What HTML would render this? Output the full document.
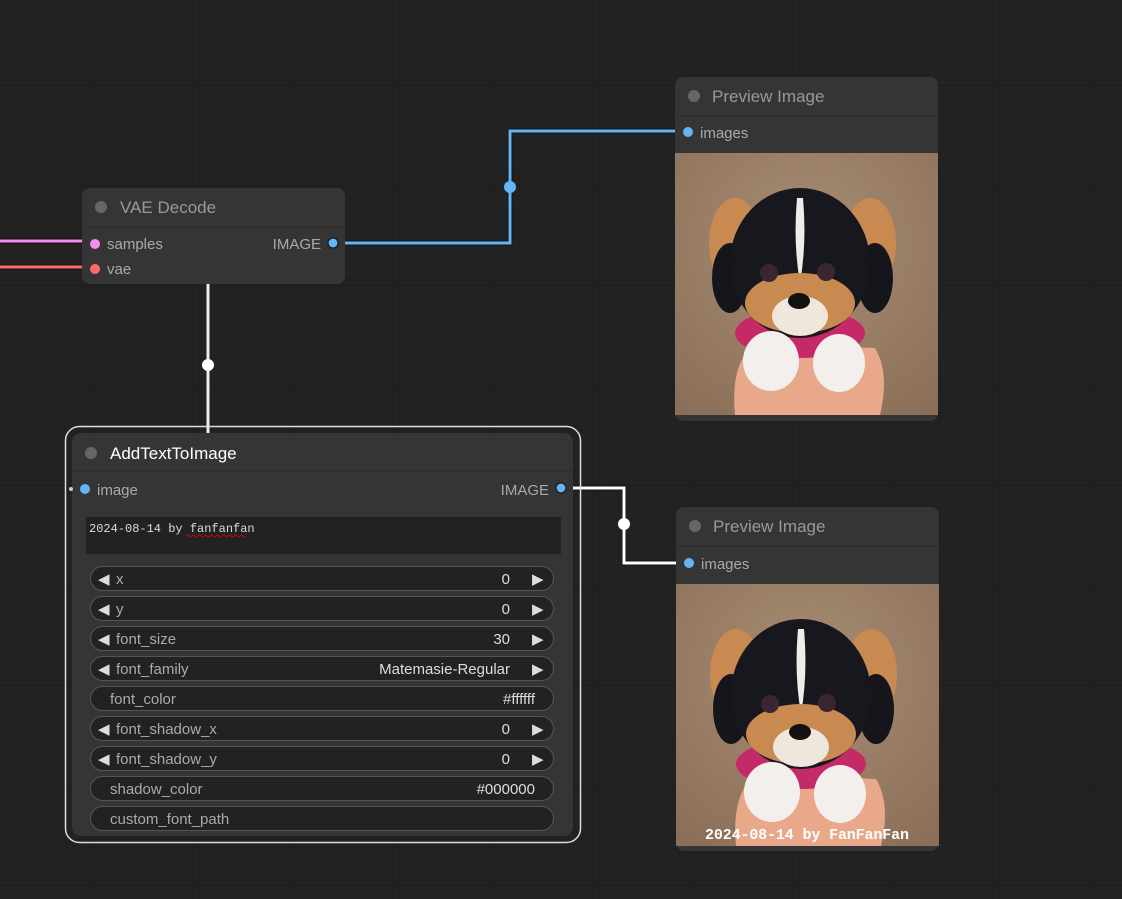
<!DOCTYPE html>
<html><head><meta charset="utf-8"><style>
html,body{margin:0;padding:0;background:#222;overflow:hidden}
svg{display:block}
text{font-family:"Liberation Sans",Arial,sans-serif}
text.mono{font-family:"Liberation Mono",monospace}
</style></head><body>
<svg width="1122" height="899" viewBox="0 0 1122 899" xmlns="http://www.w3.org/2000/svg">
<defs>
<pattern id="g1" width="10" height="10" patternUnits="userSpaceOnUse"><path d="M10 0V10H0" fill="none" stroke="#1d1d1d" stroke-width="1"/></pattern>
<pattern id="g2" width="100" height="100" patternUnits="userSpaceOnUse" x="-6" y="-14"><path d="M100 0V100H0" fill="none" stroke="#1a1a1a" stroke-width="1.5"/></pattern>
<radialGradient id="bg" cx="0.5" cy="0.35" r="0.8"><stop offset="0" stop-color="#a88d74"/><stop offset="1" stop-color="#8a6e58"/></radialGradient>
<symbol id="pup" viewBox="0 0 263 262">
<rect width="263" height="262" fill="url(#bg)"/>
<path d="M60 262 Q55 210 80 190 L200 195 Q215 220 205 262Z" fill="#e9a889"/>
<ellipse cx="60" cy="90" rx="26" ry="45" fill="#c98a52"/>
<ellipse cx="195" cy="90" rx="26" ry="45" fill="#c98a52"/>
<ellipse cx="55" cy="125" rx="18" ry="35" fill="#15151c"/>
<ellipse cx="200" cy="125" rx="18" ry="35" fill="#15151c"/>
<ellipse cx="125" cy="180" rx="65" ry="25" fill="#c42a66"/>
<ellipse cx="125" cy="110" rx="70" ry="75" fill="#17171e"/>
<path d="M122 45 Q118 90 125 130 Q132 90 128 45Z" fill="#f0ece8"/>
<ellipse cx="125" cy="150" rx="55" ry="30" fill="#c98a52"/>
<ellipse cx="125" cy="163" rx="28" ry="20" fill="#efe6dc"/>
<circle cx="94" cy="120" r="9" fill="#3a2630"/><circle cx="151" cy="119" r="9" fill="#3a2630"/>
<ellipse cx="124" cy="148" rx="11" ry="8" fill="#111"/>
<ellipse cx="96" cy="208" rx="28" ry="30" fill="#f2efec"/>
<ellipse cx="164" cy="210" rx="26" ry="29" fill="#f2efec"/>
</symbol>
</defs>
<rect width="1122" height="899" fill="#222"/>
<rect width="1122" height="899" fill="url(#g1)"/>
<rect width="1122" height="899" fill="url(#g2)"/>

<path d="M0 241H84" stroke="#111" stroke-width="5"/><path d="M0 241H84" stroke="#f78df0" stroke-width="3"/>
<path d="M0 267H84" stroke="#111" stroke-width="5"/><path d="M0 267H84" stroke="#ff6b6b" stroke-width="3"/>
<path d="M333 243H510V131H676" fill="none" stroke="#111" stroke-width="5"/>
<path d="M333 243H510V131H676" fill="none" stroke="#64b5f6" stroke-width="3"/>
<circle cx="510" cy="187" r="6" fill="#64b5f6"/>
<path d="M208 284V433" stroke="#eee" stroke-width="3"/>
<circle cx="208" cy="365" r="6" fill="#fff"/>
<path d="M561 488H624V563H678" fill="none" stroke="#111" stroke-width="5"/>
<path d="M561 488H624V563H678" fill="none" stroke="#fff" stroke-width="3"/>
<circle cx="624" cy="524" r="6" fill="#fff"/>

<rect x="82" y="188" width="263" height="96" rx="8" fill="#353535"/>
<path d="M82 227H345" stroke="#2a2a2a"/>
<circle cx="101" cy="207" r="6" fill="#666"/>
<text x="120" y="213" font-size="17" fill="#999">VAE Decode</text>
<circle cx="95" cy="244" r="5" fill="#f78df0"/><text x="107" y="249" font-size="15" fill="#aaa">samples</text>
<circle cx="95" cy="269" r="5" fill="#ff6b6b"/><text x="107" y="274" font-size="15" fill="#aaa">vae</text>
<text x="321" y="249" font-size="15" fill="#aaa" text-anchor="end">IMAGE</text>
<circle cx="333" cy="243" r="5" fill="#64b5f6" stroke="#111" stroke-width="1"/>

<rect x="675" y="77" width="263" height="344" rx="8" fill="#353535"/>
<path d="M675 116H938" stroke="#2a2a2a"/>
<circle cx="694" cy="96" r="6" fill="#666"/>
<text x="712" y="102" font-size="17" fill="#999">Preview Image</text>
<circle cx="688" cy="132" r="5" fill="#64b5f6"/><text x="700" y="138" font-size="15" fill="#aaa">images</text>
<use href="#pup" x="675" y="153" width="263" height="262"/>

<rect x="676" y="507" width="263" height="344" rx="8" fill="#353535"/>
<path d="M676 546H939" stroke="#2a2a2a"/>
<circle cx="695" cy="526" r="6" fill="#666"/>
<text x="713" y="532" font-size="17" fill="#999">Preview Image</text>
<circle cx="689" cy="563" r="5" fill="#64b5f6"/><text x="701" y="569" font-size="15" fill="#aaa">images</text>
<use href="#pup" x="676" y="584" width="263" height="262"/>
<text x="807" y="839" font-size="15" font-weight="bold" fill="#fff" text-anchor="middle" class="mono" textLength="204">2024-08-14 by FanFanFan</text>

<rect x="65.5" y="426.5" width="515" height="416" rx="14" fill="none" stroke="#ddd" stroke-width="1.5"/>
<rect x="72" y="433" width="501" height="403" rx="9" fill="#353535"/>
<path d="M72 471H573" stroke="#2a2a2a"/>
<circle cx="91" cy="453" r="6" fill="#666"/>
<text x="110" y="459" font-size="17" fill="#fff">AddTextToImage</text>
<circle cx="71" cy="489" r="2" fill="#ccc"/>
<circle cx="85" cy="489" r="5" fill="#64b5f6"/><text x="97" y="495" font-size="15" fill="#aaa">image</text>
<text x="549" y="495" font-size="15" fill="#aaa" text-anchor="end">IMAGE</text>
<circle cx="561" cy="488" r="5" fill="#64b5f6" stroke="#111"/>
<rect x="86" y="517" width="475" height="37" fill="#222"/>
<text x="89" y="532" font-size="12" fill="#ddd" class="mono">2024-08-14 by fanfanfan</text>
<path d="M186 536 q1.5 -2 3 0 t3 0 t3 0 t3 0 t3 0 t3 0 t3 0 t3 0 t3 0 t3 0 t3 0 t3 0 t3 0 t3 0 t3 0 t3 0 t3 0 t3 0 t3 0 t3 0" fill="none" stroke="#d00" stroke-width="1"/>
<g font-size="15" fill="#aaa">
<g>
<rect x="90.5" y="566.5" width="463" height="24" rx="12" fill="#222" stroke="#555"/>
<text x="98" y="584" fill="#ddd">◀</text><text x="116" y="584">x</text><text x="510" y="584" fill="#ddd" text-anchor="end">0</text><text x="532" y="584" fill="#ddd">▶</text>
</g>
<g transform="translate(0,30)">
<rect x="90.5" y="566.5" width="463" height="24" rx="12" fill="#222" stroke="#555"/>
<text x="98" y="584" fill="#ddd">◀</text><text x="116" y="584">y</text><text x="510" y="584" fill="#ddd" text-anchor="end">0</text><text x="532" y="584" fill="#ddd">▶</text>
</g>
<g transform="translate(0,60)">
<rect x="90.5" y="566.5" width="463" height="24" rx="12" fill="#222" stroke="#555"/>
<text x="98" y="584" fill="#ddd">◀</text><text x="116" y="584">font_size</text><text x="510" y="584" fill="#ddd" text-anchor="end">30</text><text x="532" y="584" fill="#ddd">▶</text>
</g>
<g transform="translate(0,90)">
<rect x="90.5" y="566.5" width="463" height="24" rx="12" fill="#222" stroke="#555"/>
<text x="98" y="584" fill="#ddd">◀</text><text x="116" y="584">font_family</text><text x="510" y="584" fill="#ddd" text-anchor="end">Matemasie-Regular</text><text x="532" y="584" fill="#ddd">▶</text>
</g>
<g transform="translate(0,120)">
<rect x="90.5" y="566.5" width="463" height="24" rx="12" fill="#222" stroke="#555"/>
<text x="110" y="584">font_color</text><text x="535" y="584" fill="#ddd" text-anchor="end">#ffffff</text>
</g>
<g transform="translate(0,150)">
<rect x="90.5" y="566.5" width="463" height="24" rx="12" fill="#222" stroke="#555"/>
<text x="98" y="584" fill="#ddd">◀</text><text x="116" y="584">font_shadow_x</text><text x="510" y="584" fill="#ddd" text-anchor="end">0</text><text x="532" y="584" fill="#ddd">▶</text>
</g>
<g transform="translate(0,180)">
<rect x="90.5" y="566.5" width="463" height="24" rx="12" fill="#222" stroke="#555"/>
<text x="98" y="584" fill="#ddd">◀</text><text x="116" y="584">font_shadow_y</text><text x="510" y="584" fill="#ddd" text-anchor="end">0</text><text x="532" y="584" fill="#ddd">▶</text>
</g>
<g transform="translate(0,210)">
<rect x="90.5" y="566.5" width="463" height="24" rx="12" fill="#222" stroke="#555"/>
<text x="110" y="584">shadow_color</text><text x="535" y="584" fill="#ddd" text-anchor="end">#000000</text>
</g>
<g transform="translate(0,240)">
<rect x="90.5" y="566.5" width="463" height="24" rx="12" fill="#222" stroke="#555"/>
<text x="110" y="584">custom_font_path</text>
</g>
</g>
</svg>
</body></html>
